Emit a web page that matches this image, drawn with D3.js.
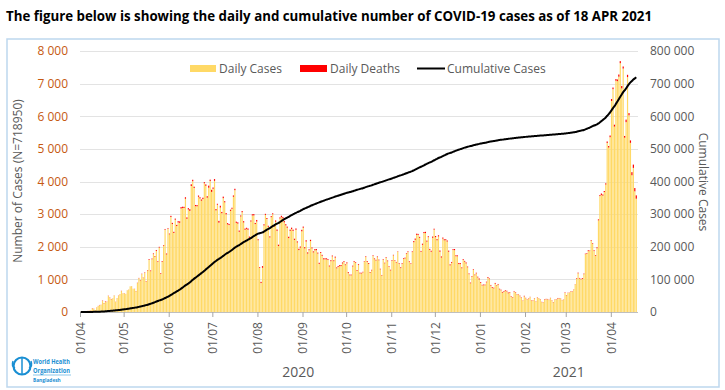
<!DOCTYPE html>
<html><head><meta charset="utf-8">
<script src="https://cdn.jsdelivr.net/npm/d3@7"></script>
<style>
html,body{margin:0;padding:0;background:#fff;}
svg{display:block;font-family:"Open Sans",sans-serif;}
</style></head>
<body><svg id="c" width="725" height="390"></svg>
<script>
// ---------------- DATA ----------------
const startDate = "2020-04-01";   // first day shown
const casesBefore = 54;           // cumulative cases before the first day shown
// daily confirmed cases, 1 Apr 2020 .. 18 Apr 2021
const dailyCases = [
 // Apr 2020
 2,2,5,9,18,35,41,54,112,94,58,139,182,209,219,341,266,306,312,492,434,390,414,503,309,418,497,549,641,564,
 // May
 571,552,665,688,786,790,706,709,636,887,1034,969,1162,1041,1202,930,1273,1602,1251,1617,1773,1694,1873,1532,1975,1166,1541,2029,2523,1764,2545,
 // Jun
 2381,2911,2695,2423,2828,2635,2743,2735,3171,3190,3187,3471,2856,3141,3099,3862,4008,3803,3243,3240,3531,3480,3412,3462,3946,3868,3504,3809,4014,3682,
 // Jul
 3775,4019,3114,3288,2738,3201,3027,3489,3360,2994,2686,2666,3099,3163,3533,3733,2733,2709,2459,2928,3057,2744,2520,2548,2520,2275,2772,2960,2960,2695,2772,
 // Aug
 2199,1356,887,1356,2654,2977,2851,2611,2285,2907,2996,2617,2766,2487,2024,2865,2907,2868,2747,2654,2582,2265,2485,2545,2485,2211,2519,2131,1897,1974,2474,
 // Sep
 2582,1950,2158,1792,1892,2174,1950,1827,1892,1892,1792,1476,1812,1724,1615,1615,1615,1593,1396,1557,1705,1557,1666,1340,1383,1407,1407,1488,1537,1436,
 // Oct
 1492,1193,1125,1125,1396,1537,1502,1264,1440,1182,1182,1215,1541,1684,1537,1474,1205,1275,1715,1619,1579,1681,1586,1308,1120,1604,1493,1658,1556,1380,1275,
 // Nov
 1568,1736,1568,1517,1845,1471,1346,1474,1632,1642,1779,1837,1531,1471,1837,2139,2212,2364,2364,2275,1847,2060,2419,2419,2156,2293,1905,1847,2275,2525,
 // Dec
 2293,2198,2316,1847,1669,2248,2198,2202,2159,1847,1430,1508,1900,1895,1709,1708,1469,1469,1341,1597,1542,1489,1370,1159,880,1078,1294,1128,1183,1060,998,
 // Jan 2021
 890,817,820,820,910,1048,1007,809,741,725,866,805,839,695,665,594,619,648,631,573,596,468,445,614,596,523,545,485,429,344,479,
 // Feb
 423,376,402,457,350,344,414,316,440,420,387,304,291,373,392,391,367,426,351,292,379,376,416,420,409,363,371,585,
 // Mar
 508,585,591,634,615,682,845,1018,1186,1025,1003,1014,1159,1773,1779,1865,1868,2187,2089,1868,1719,1954,2809,3554,3587,3567,3674,3908,5181,5042,5358,
 // Apr
 6469,6830,5683,7087,7075,7213,7626,6854,7462,5343,5819,7201,6028,5185,4192,4417,3698,3473
];
// daily deaths, same days
const dailyDeaths = [
 1,0,1,3,1,3,1,5,7,6,3,4,5,7,4,10,10,15,6,7,10,10,3,5,5,5,7,2,8,5,
 5,2,2,2,1,2,3,4,8,9,11,13,11,11,13,14,14,22,21,21,22,20,28,21,23,21,22,20,22,28,21,
 22,37,37,35,35,35,42,42,45,37,37,46,44,44,53,53,45,38,38,37,39,38,37,41,34,43,45,64,43,64,
 41,55,42,29,55,55,40,47,37,39,39,33,37,33,39,44,36,40,37,32,37,39,37,34,40,37,34,35,42,35,49,
 30,22,37,50,35,32,30,32,33,32,30,40,41,42,39,35,42,46,40,38,36,42,41,40,40,35,42,32,42,33,45,
 36,35,42,34,31,39,27,30,35,40,28,32,27,28,29,31,30,26,26,30,26,27,31,26,28,28,32,30,24,22,
 29,27,21,21,24,24,21,23,24,24,20,17,15,21,25,26,21,18,20,22,22,21,20,18,15,18,17,20,21,20,20,
 20,17,18,18,12,19,22,21,21,24,19,21,20,18,20,35,39,36,30,28,25,34,33,39,32,29,30,31,38,28,
 36,34,35,38,34,34,31,28,33,34,29,26,25,36,30,27,34,30,25,24,25,30,23,22,21,19,18,20,21,23,30,
 24,17,21,19,19,25,20,20,23,20,25,14,20,18,19,21,21,20,20,24,15,16,13,18,14,13,7,16,13,9,18,
 12,11,12,8,9,11,10,9,10,6,9,8,9,14,11,9,9,8,9,10,7,10,14,10,7,7,8,15,
 11,7,6,8,12,8,7,18,20,19,15,23,18,15,20,27,14,19,19,23,22,28,30,29,45,34,35,35,45,45,52,
 59,50,58,52,52,66,63,74,63,53,78,69,69,74,94,101,101,102
];
const leftTicks = [0,1000,2000,3000,4000,5000,6000,7000,8000];
const rightTicks = [0,100000,200000,300000,400000,500000,600000,700000,800000];
const yearLabels = [{year:"2020", at:"2020-08-29"}, {year:"2021", at:"2021-03-03"}];
const seriesNames = ["Daily Cases","Daily Deaths","Cumulative Cases"];
const titleText = "The figure below is showing the daily and cumulative number of COVID-19 cases as of 18 APR 2021";

// ---------------- CHART ----------------
const svg = d3.select("#c");
const parse = d3.timeParse("%Y-%m-%d");
const t0 = parse(startDate);
const days = dailyCases.map((v,i)=>d3.timeDay.offset(t0,i));
const cumul = Array.from(d3.cumsum(dailyCases)).map(v=>v+casesBefore);
const data = days.map((d,i)=>({date:d, cases:dailyCases[i], deaths:dailyDeaths[i], cum:cumul[i]}));

const x = d3.scaleTime().domain([t0, d3.timeDay.offset(t0, dailyCases.length)]).range([80, 637]);
const yL = d3.scaleLinear().domain([0,8000]).range([312,51]);
const yR = d3.scaleLinear().domain([0,800000]).range([312,51]);
const step = x(d3.timeDay.offset(t0,1)) - x(t0);
const loc = d3.formatLocale({decimal:".", thousands:" ", grouping:[3], currency:["",""]});
const fmt = loc.format(",");

// frame
svg.append("rect").attr("x",7).attr("y",39).attr("width",712).attr("height",348)
  .attr("fill","none").attr("stroke","#BDD7EE").attr("stroke-width",1.5);

// title
svg.append("text").attr("x",6).attr("y",21).text(titleText)
  .attr("font-family","'Open Sans',sans-serif").attr("font-weight","bold").attr("font-size",14.5)
  .attr("textLength",646).attr("lengthAdjust","spacingAndGlyphs").attr("fill","#000");

// gridlines
svg.append("g").selectAll("line").data(leftTicks.slice(1)).join("line")
  .attr("x1",80).attr("x2",638).attr("y1",d=>Math.round(yL(d))+0.5).attr("y2",d=>Math.round(yL(d))+0.5)
  .attr("stroke","#E3E3E3").attr("stroke-width",1);

// left axis
const gL = svg.append("g").attr("transform","translate(70,0)")
  .call(d3.axisLeft(yL).tickValues(leftTicks).tickFormat(fmt).tickSize(0));
gL.select(".domain").remove();
gL.selectAll("text").attr("font-family","'Open Sans',sans-serif").attr("font-size",12).attr("fill","#C65911").attr("x",-2);

// right axis
const gR = svg.append("g").attr("transform","translate(648,0)")
  .call(d3.axisRight(yR).tickValues(rightTicks).tickFormat(fmt).tickSize(0));
gR.select(".domain").remove();
gR.selectAll("text").attr("font-family","'Open Sans',sans-serif").attr("font-size",12).attr("fill","#595959").attr("x",2);

// bars: cases
const bw = step*0.82;
svg.append("g").selectAll("rect").data(data).join("rect")
  .attr("x",d=>x(d.date)+(step-bw)/2).attr("width",bw)
  .attr("y",d=>yL(d.cases)).attr("height",d=>yL(0)-yL(d.cases))
  .attr("fill","#FFD966");
// bars: deaths stacked
svg.append("g").selectAll("rect").data(data).join("rect")
  .attr("x",d=>x(d.date)+(step-bw)/2).attr("width",bw)
  .attr("y",d=>yL(d.cases+d.deaths)).attr("height",d=>yL(d.cases)-yL(d.cases+d.deaths))
  .attr("fill","#FF0000");

// x axis
const gX = svg.append("g").attr("transform","translate(0,312)")
  .call(d3.axisBottom(x).tickValues(d3.timeMonth.range(t0, d3.timeDay.offset(parse("2021-04-01"),1)))
    .tickFormat(d3.timeFormat("%d/%m")).tickSize(5).tickSizeOuter(0));
gX.select(".domain").attr("stroke","#BFBFBF").attr("d","M80,0.5H638");
gX.selectAll(".tick line").attr("stroke","#A6A6A6");
gX.selectAll("text").attr("font-family","'Open Sans',sans-serif").attr("font-size",12).attr("fill","#595959")
  .attr("transform","rotate(-90)").attr("text-anchor","end").attr("dy","0.35em").attr("y",0).attr("x",-10);

// cumulative line
svg.append("path").datum(data)
  .attr("d", d3.line().x(d=>x(d.date)+step/2).y(d=>yR(d.cum)).curve(d3.curveMonotoneX))
  .attr("fill","none").attr("stroke","#000").attr("stroke-width",2);

// year labels
svg.append("g").selectAll("text").data(yearLabels).join("text")
  .attr("x",d=>x(parse(d.at))).attr("y",377).attr("text-anchor","middle")
  .attr("font-size",14).attr("fill","#595959").text(d=>d.year);

// axis titles
svg.append("text").attr("transform","translate(22,181) rotate(-90)").attr("text-anchor","middle")
  .attr("font-size",12).attr("fill","#595959").text("Number of Cases (N=718950)");
svg.append("text").attr("transform","translate(699,182) rotate(90)").attr("text-anchor","middle")
  .attr("font-size",12).attr("fill","#595959").text("Cumulative Cases");

// legend
const lg = svg.append("g").attr("font-size",12).attr("fill","#595959");
lg.append("rect").attr("x",190).attr("y",65).attr("width",26).attr("height",7).attr("fill","#FFD966");
lg.append("text").attr("x",219).attr("y",72.5).text(seriesNames[0]);
lg.append("rect").attr("x",300).attr("y",65).attr("width",27).attr("height",7).attr("fill","#FF0000");
lg.append("text").attr("x",330).attr("y",72.5).text(seriesNames[1]);
lg.append("line").attr("x1",417).attr("x2",445).attr("y1",68.5).attr("y2",68.5).attr("stroke","#000").attr("stroke-width",2);
lg.append("text").attr("x",447).attr("y",72.5).text(seriesNames[2]);

// WHO logo
const logo = svg.append("g");
logo.append("circle").attr("cx",22).attr("cy",366).attr("r",8.5).attr("fill","none").attr("stroke","#1A8FD3").attr("stroke-width",2.2);
logo.append("line").attr("x1",22).attr("x2",22).attr("y1",358).attr("y2",375).attr("stroke","#1A8FD3").attr("stroke-width",1.5);
logo.append("path").attr("d","M15,368 Q11,366 13,361 M29,368 Q33,366 31,361").attr("fill","none").attr("stroke","#1A8FD3").attr("stroke-width",1.4);
logo.append("text").attr("x",33).attr("y",363.5).attr("font-size",6.3).attr("font-weight","bold").attr("fill","#1A8FD3")
  .attr("font-family","'Liberation Sans Narrow','Open Sans',sans-serif").attr("textLength",37).attr("lengthAdjust","spacingAndGlyphs").text("World Health");
logo.append("text").attr("x",33).attr("y",372.5).attr("font-size",6.3).attr("font-weight","bold").attr("fill","#1A8FD3")
  .attr("font-family","'Liberation Sans Narrow','Open Sans',sans-serif").attr("textLength",37).attr("lengthAdjust","spacingAndGlyphs").text("Organization");
logo.append("line").attr("x1",33).attr("x2",71).attr("y1",375).attr("y2",375).attr("stroke","#1A8FD3").attr("stroke-width",0.5);
logo.append("text").attr("x",33).attr("y",381.5).attr("font-size",4.8).attr("font-weight","bold").attr("fill","#1A8FD3")
  .attr("font-family","'Liberation Sans Narrow','Open Sans',sans-serif").text("Bangladesh");
</script></body></html>
